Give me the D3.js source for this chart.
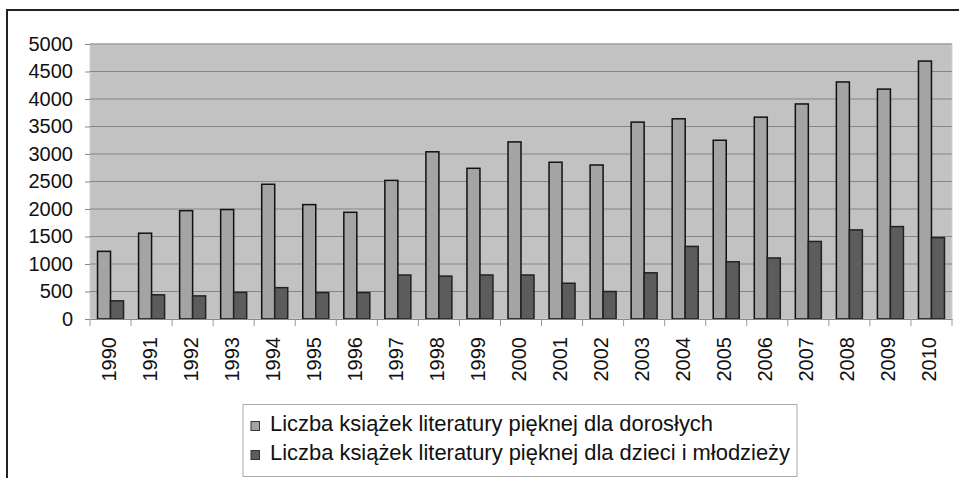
<!DOCTYPE html>
<html>
<head>
<meta charset="utf-8">
<script src="https://cdn.jsdelivr.net/npm/d3@7"></script>
<style>
  body { margin: 0; background: #fff; }
  text { font-family: "Liberation Sans", Arial, sans-serif; fill: #111; }
</style>
</head>
<body>
<script>
let years = ["1990","1991","1992","1993","1994","1995","1996","1997","1998","1999","2000",
             "2001","2002","2003","2004","2005","2006","2007","2008","2009","2010"]
let adults = [1230,1560,1970,1990,2450,2080,1940,2520,3040,2740,3220,2850,2800,3580,3640,3250,3670,3910,4310,4180,4690]
let kids = [330,440,420,485,570,480,480,800,780,800,800,650,500,840,1320,1040,1110,1410,1620,1680,1480]
let seriesNames = ["Liczba książek literatury pięknej dla dorosłych",
                   "Liczba książek literatury pięknej dla dzieci i młodzieży"]
let yTicks = [0,500,1000,1500,2000,2500,3000,3500,4000,4500,5000]

let w = 959
let h = 478
let m = {left: 90, right: 7, top: 44, bottom: 159}
let colors = ["#a4a4a4", "#5c5c5c"]

let svg = d3.select("body")
    .append("svg")
    .attr("width", w)
    .attr("height", h)

// outer frame
svg.append("rect")
    .attr("x", 7).attr("y", 10)
    .attr("width", w + 10).attr("height", h + 10)
    .attr("fill", "none")
    .attr("stroke", "#222")
    .attr("stroke-width", 2)

let xScale = d3.scaleBand()
    .domain(years)
    .range([m.left, w - m.right])
let yScale = d3.scaleLinear()
    .domain([0, 5000])
    .range([h - m.bottom, m.top])
let inner = d3.scaleBand()
    .domain([0, 1])
    .range([0, 26])

// plot background
svg.append("rect")
    .attr("x", m.left).attr("y", m.top)
    .attr("width", w - m.right - m.left)
    .attr("height", yScale(0) - m.top)
    .attr("fill", "#c2c2c2")
    .attr("stroke", "#d4d4d4")

// gridlines
svg.append("g")
    .selectAll("line")
    .data(yTicks.slice(1))
    .enter()
    .append("line")
    .attr("x1", m.left).attr("x2", w - m.right)
    .attr("y1", d => yScale(d)).attr("y2", d => yScale(d))
    .attr("stroke", "#858585")
    .attr("stroke-width", 1)

let yAxis = d3.axisLeft(yScale).tickValues(yTicks).tickSize(5).tickPadding(12).tickFormat(d3.format("d"))
let gy = svg.append("g")
    .attr("transform", `translate(${m.left},0)`)
    .call(yAxis)
gy.select(".domain").remove()
gy.selectAll("line").attr("stroke", "#888")
gy.selectAll("text").attr("font-size", 20).attr("fill", "#111")

// bars
let groups = svg.append("g")
    .selectAll("g")
    .data(years)
    .enter()
    .append("g")
    .attr("transform", d => `translate(${xScale(d) + xScale.bandwidth() / 2 - 13},0)`)

groups.append("rect")
    .attr("x", inner(0))
    .attr("y", (d, i) => yScale(adults[i]))
    .attr("width", inner.bandwidth())
    .attr("height", (d, i) => yScale(0) - yScale(adults[i]))
    .attr("fill", colors[0])
    .attr("stroke", "#111")
    .attr("stroke-width", 1.5)

groups.append("rect")
    .attr("x", inner(1))
    .attr("y", (d, i) => yScale(kids[i]))
    .attr("width", inner.bandwidth())
    .attr("height", (d, i) => yScale(0) - yScale(kids[i]))
    .attr("fill", colors[1])
    .attr("stroke", "#222")
    .attr("stroke-width", 1.5)

// x axis
let xAxis = d3.axisBottom(xScale).tickSize(0).tickPadding(0)
let gx = svg.append("g")
    .attr("transform", `translate(0,${yScale(0)})`)
    .call(xAxis)
gx.select(".domain").attr("stroke", "#888")
gx.selectAll("text")
    .attr("font-size", 20)
    .attr("fill", "#111")
    .attr("text-anchor", "end")
    .attr("transform", "rotate(-90)")
    .attr("x", -18)
    .attr("y", -2)
    .attr("dy", "0.35em")

// category boundary ticks
svg.append("g")
    .selectAll("line")
    .data(years.concat(["end"]))
    .enter()
    .append("line")
    .attr("x1", (d, i) => i < years.length ? xScale(d) : w - m.right)
    .attr("x2", (d, i) => i < years.length ? xScale(d) : w - m.right)
    .attr("y1", yScale(0)).attr("y2", yScale(0) + 7)
    .attr("stroke", "#999")

// legend
let legendWidths = [443, 520]
let legend = svg.append("g")
legend.append("rect")
    .attr("x", 243).attr("y", 404.5)
    .attr("width", 554).attr("height", 72)
    .attr("fill", "#fff")
    .attr("stroke", "#aaa")

legend.selectAll("g")
    .data(seriesNames)
    .enter()
    .append("g")
    .attr("transform", (d, i) => `translate(251,${431 + i * 29})`)
    .each(function (d, i) {
        let g = d3.select(this)
        g.append("rect")
            .attr("x", 0).attr("y", -9.5)
            .attr("width", 8.5).attr("height", 9)
            .attr("fill", colors[i])
            .attr("stroke", "#333")
        g.append("text")
            .attr("x", 19)
            .attr("font-size", 21.5)
            .attr("textLength", legendWidths[i])
            .attr("lengthAdjust", "spacingAndGlyphs")
            .text(d)
    })
</script>
</body>
</html>
